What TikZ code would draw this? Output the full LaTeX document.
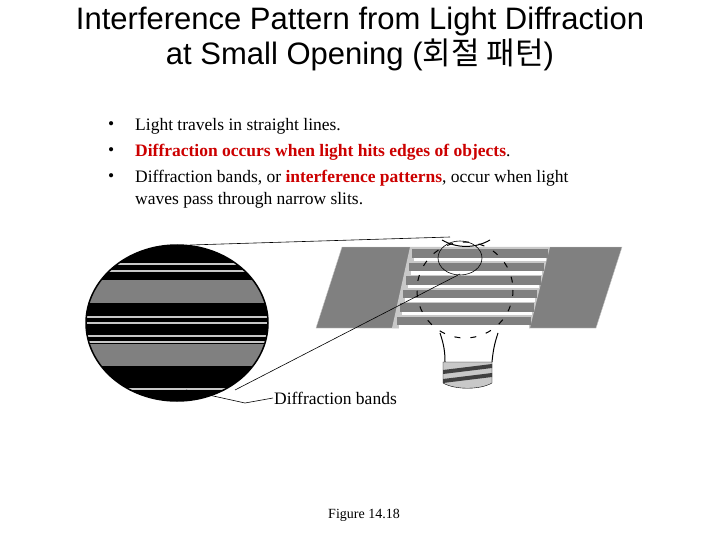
\documentclass[tikz,border=0pt]{standalone}
\usepackage{fontspec}
\setmainfont{Liberation Serif}
\newfontfamily\arialf{Liberation Sans}
\newfontfamily\krf{Noto Sans CJK KR}
\definecolor{band}{RGB}{128,128,128}
\definecolor{lite}{RGB}{200,200,200}
\definecolor{redt}{RGB}{204,0,0}
\begin{document}
\begin{tikzpicture}[x=1pt,y=-1pt,
  ttl/.style={font=\arialf\fontsize{31}{36}\selectfont,align=center},
  body/.style={font=\fontsize{17.5}{20}\selectfont,anchor=west,inner sep=0},
  thin/.style={line width=0.6pt}]
\useasboundingbox (0,0) rectangle (720,540);
\node[ttl] (t1) at (360,21) {Interference Pattern from Light Diffraction};
\node[ttl] (t2) at (360,55) {at Small Opening ({\krf 회절 패턴})};
\foreach \y in {126,152,178}{\node[body] at (108,\y) {\textbullet};}
\node[body] (b1) at (135,126) {Light travels in straight lines.};
\node[body,text=redt] (b2) at (135,152) {\textbf{Diffraction occurs when light hits edges of objects}\textcolor{black}{.}};
\node[body] (b3) at (135,178) {Diffraction bands, or \textcolor{redt}{\textbf{interference patterns}}, occur when light};
\node[body] (b4) at (135,200) {waves pass through narrow slits.};
% big circle
\begin{scope}
\clip (177,323) ellipse [x radius=91, y radius=78];
\fill[black] (80,240) rectangle (280,410);
\fill[band] (80,280) rectangle (280,303);
\fill[band] (80,344) rectangle (280,366);
\foreach \y in {263,270,316,322,335,341,388}{\fill[lite] (80,\y) rectangle (280,\y+2);}
\end{scope}
\draw[line width=1.5pt] (177,323) ellipse [x radius=91, y radius=78];
% slit plate
\fill[band,draw=lite] (342,247) -- (622,247) -- (596,328) -- (316,328) -- cycle;
\fill[lite] (410,247) -- (550,247) -- (530,328) -- (392,328) -- cycle;
\foreach \i in {0,...,5}{
  \pgfmathsetmacro{\ya}{249+\i*13.5}
  \fill[band] ({410-(\ya-247)*0.22+2},\ya) rectangle ({550-(\ya-247)*0.25-2},\ya+8.5);
  \fill[white] ({410-(\ya-247)*0.22+4},\ya+8.5) rectangle ({550-(\ya-247)*0.25-4},\ya+12);
}
% bulb
\draw[line width=1pt,dash pattern=on 6pt off 10pt] (465,290) circle [radius=48];
\draw[line width=1pt] (442,240) arc[start angle=120,end angle=60,radius=48];
\draw[line width=1pt] (440,333) .. controls (444,345) and (445,352) .. (445,362);
\draw[line width=1pt] (498,333) .. controls (494,345) and (493,352) .. (492,362);
\fill[lite,draw=black] (443,362) -- (492,362) -- (492,383) .. controls (480,390) and (455,390) .. (443,383) -- cycle;
\foreach \y in {366,375}{\fill[darkgray] (443,\y+4) -- (492,\y-2) -- (492,\y+2) -- (443,\y+8) -- cycle;}
% zoom ellipse and lines
\draw[thin] (460,258) ellipse [x radius=22, y radius=17];
\coordinate (ztop) at (450,237);
\coordinate (zbot) at (460,274);
\coordinate (ctop) at (190,245);
\coordinate (cbot) at (235,390);
\draw[thin] (ctop) -- (ztop);
\draw[thin] (cbot) -- (zbot);
\node[font=\fontsize{17.5}{20}\selectfont,anchor=west,inner sep=1pt] (lab) at (273,398) {Diffraction bands};
\coordinate (ptr) at (186,390);
\draw[thin] (ptr) -- (245,403) -- (lab.west);
\node[font=\fontsize{14}{16}\selectfont] (fig) at (364,515) {Figure 14.18};
\end{tikzpicture}
\end{document}
